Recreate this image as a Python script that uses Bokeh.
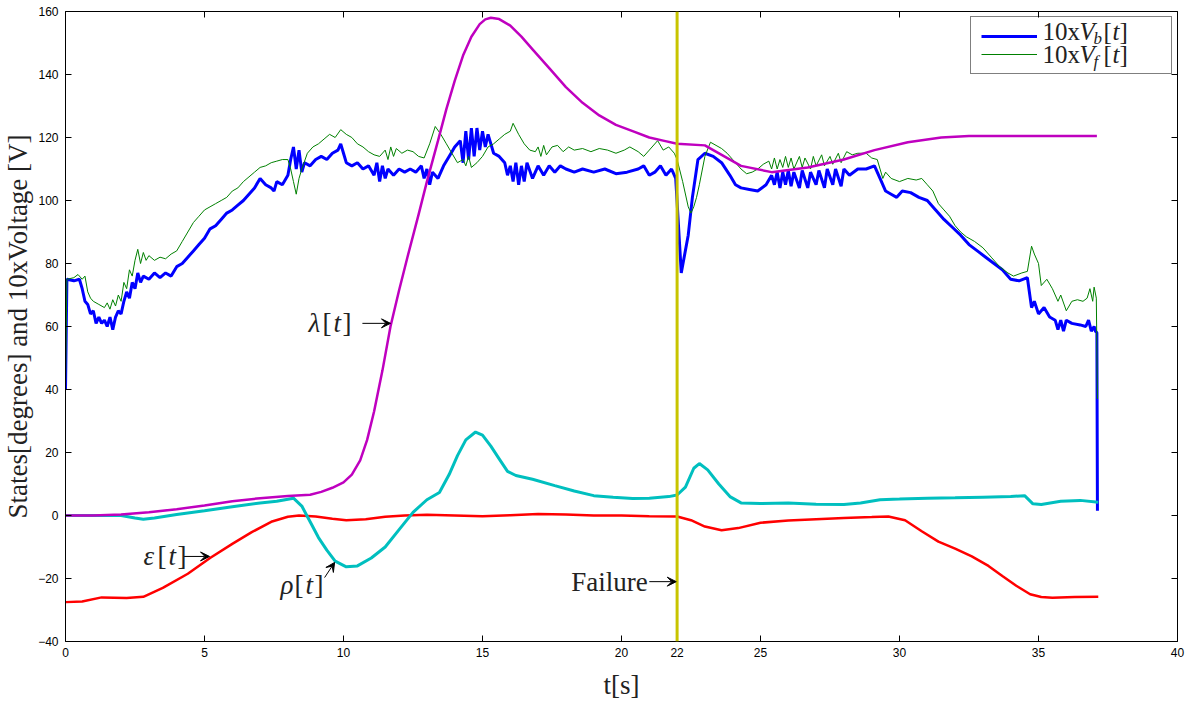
from bokeh.plotting import figure
from bokeh.models import (Range1d, LinearAxis, FixedTicker, Span, Arrow, VeeHead,
                          Label, Legend, LegendItem)
from bokeh.embed import file_html
from bokeh.resources import INLINE

# ---------------- data ----------------
x_ticks = [0, 5, 10, 15, 20, 22, 25, 30, 35, 40]
y_ticks = [-40, -20, 0, 20, 40, 60, 80, 100, 120, 140, 160]
failure_time = 22

blue_t = [0.0, 0.05, 0.3, 0.5, 0.6, 0.7, 0.8, 0.9, 1.0, 1.1, 1.2, 1.3, 1.4, 1.5, 1.6, 1.7, 1.8, 1.9,
          2.0, 2.1, 2.2, 2.3, 2.4, 2.5, 2.6, 2.7, 2.8, 3.0, 3.2, 3.4, 3.6, 3.8, 4.0, 4.2, 4.4, 4.6,
          4.8, 5.0, 5.2, 5.4, 5.6, 5.8, 6.0, 6.2, 6.4, 6.6, 6.8, 7.0, 7.2, 7.4, 7.5, 7.6, 7.8, 8.0,
          8.1, 8.2, 8.3, 8.4, 8.5, 8.6, 8.8, 9.0, 9.2, 9.4, 9.6, 9.8, 9.9, 10.0, 10.1, 10.3, 10.5,
          10.7, 10.9, 11.1, 11.2, 11.3, 11.4, 11.5, 11.6, 11.8, 12.0, 12.2, 12.4, 12.6, 12.8, 12.9,
          13.0, 13.1, 13.2, 13.4, 13.6, 13.8, 14.0, 14.2, 14.3, 14.4, 14.5, 14.6, 14.7, 14.8, 14.9,
          15.0, 15.1, 15.2, 15.4, 15.6, 15.8, 15.9, 16.0, 16.1, 16.2, 16.3, 16.4, 16.5, 16.6, 16.8,
          17.0, 17.2, 17.4, 17.6, 17.8, 18.0, 18.3, 18.6, 19.0, 19.4, 19.8, 20.2, 20.6, 20.8, 21.0,
          21.2, 21.4, 21.6, 21.8, 21.95, 22.15, 22.4, 22.55, 22.75, 23.0, 23.3, 23.6, 23.9, 24.1,
          24.3, 24.6, 24.9, 25.2, 25.4, 25.5, 25.6, 25.7, 25.8, 25.9, 26.0, 26.1, 26.2, 26.4, 26.5,
          26.7, 26.8, 27.0, 27.1, 27.3, 27.4, 27.6, 27.7, 27.9, 28.0, 28.2, 28.5, 28.8, 29.1, 29.3,
          29.5, 29.7, 29.9, 30.1, 30.4, 30.7, 31.0, 31.3, 31.6, 31.9, 32.2, 32.5, 32.8, 33.1, 33.4,
          33.7, 34.0, 34.3, 34.6, 34.75, 34.85, 35.0, 35.2, 35.4, 35.6, 35.7, 35.8, 35.9, 36.0,
          36.2, 36.5, 36.7, 36.8, 36.9, 37.0, 37.05, 37.1, 37.12]
blue_v = [40, 75, 74.5, 75, 72, 68, 67, 64, 65, 61, 63, 61, 62, 60, 63, 59, 63, 65,
          64, 68, 71, 69, 74, 72, 77, 74, 76, 75, 77, 75.5, 77, 76, 79, 80, 82, 84,
          86, 88, 91, 92, 94, 96, 97, 98.5, 100, 102, 104, 107, 105, 104, 103, 106, 105, 108,
          113, 117, 110, 116, 109, 112, 111, 113, 114, 113, 115, 116, 118, 115, 112, 111, 112,
          110, 111, 108, 112, 106, 111, 107, 110, 108, 110, 109, 110, 109, 111, 107,
          110, 105, 109, 107, 111, 114, 117, 119, 112, 122, 113, 123, 114, 123, 116,
          122, 117, 121, 115, 114, 112, 108, 111, 106, 112, 105, 111, 106, 112, 107,
          111, 108, 111, 109, 111, 110, 109, 110, 109, 110, 108.5, 109, 110, 111, 108,
          109, 111, 108, 110, 107, 77, 89, 101, 113, 115, 114, 112, 108, 105,
          104, 103.5, 103, 105, 108, 105, 109, 104, 109, 105, 109.5, 104.5, 109, 104, 109.5,
          104, 109, 105, 109.5, 104, 110, 105, 110, 104.5, 110, 108, 110, 110, 111, 107,
          103, 102, 101, 103, 102.5, 101, 100, 97, 94, 91.5, 89, 86, 84, 82, 80,
          78, 75, 74.5, 75.5, 66, 68, 64, 66, 63, 62, 59, 62, 58.5, 62,
          61, 60.5, 60, 62, 58.5, 60, 58.5, 58, 1.5]

green_t = [0.0, 0.05, 0.3, 0.45, 0.6, 0.7, 0.8, 0.9, 1.0, 1.2, 1.4, 1.5, 1.6, 1.7, 1.8, 1.9, 2.0,
           2.1, 2.2, 2.3, 2.4, 2.5, 2.6, 2.7, 2.8, 2.9, 3.0, 3.2, 3.4, 3.6, 3.8, 4.0, 4.2, 4.4, 4.6,
           4.8, 5.0, 5.2, 5.4, 5.6, 5.8, 6.0, 6.2, 6.4, 6.6, 6.8, 7.0, 7.2, 7.4, 7.6, 7.8, 8.0, 8.1,
           8.2, 8.3, 8.4, 8.5, 8.7, 8.9, 9.1, 9.3, 9.5, 9.7, 9.9, 10.1, 10.3, 10.5, 10.7, 10.9, 11.1,
           11.3, 11.5, 11.6, 11.7, 11.8, 11.9, 12.1, 12.3, 12.5, 12.7, 12.9, 13.1, 13.3, 13.5, 13.7,
           13.9, 14.1, 14.3, 14.4, 14.5, 14.6, 14.8, 15.0, 15.2, 15.4, 15.6, 15.8, 16.0, 16.1, 16.3,
           16.5, 16.7, 16.9, 17.0, 17.1, 17.2, 17.3, 17.5, 17.7, 17.9, 18.1, 18.3, 18.6, 18.9, 19.2,
           19.5, 19.8, 20.1, 20.3, 20.6, 20.8, 21.0, 21.3, 21.5, 21.7, 21.9, 22.0, 22.2, 22.4, 22.5,
           22.6, 22.7, 22.8, 23.0, 23.2, 23.4, 23.6, 23.8, 24.0, 24.3, 24.5, 24.7, 24.9, 25.1, 25.3,
           25.4, 25.5, 25.6, 25.7, 25.8, 25.9, 26.0, 26.1, 26.2, 26.4, 26.5, 26.6, 26.8, 26.9, 27.0,
           27.2, 27.3, 27.5, 27.6, 27.8, 27.9, 28.1, 28.3, 28.5, 28.8, 29.0, 29.2, 29.4, 29.5, 29.7,
           30.0, 30.3, 30.6, 30.8, 31.0, 31.2, 31.4, 31.6, 31.8, 32.0, 32.2, 32.4, 32.7, 33.0, 33.3,
           33.6, 33.9, 34.1, 34.4, 34.6, 34.75, 34.85, 35.0, 35.1, 35.3, 35.5, 35.7, 35.8, 36.0,
           36.2, 36.4, 36.6, 36.75, 36.85, 36.95, 37.0, 37.08, 37.12]
green_v = [40, 75, 75.5, 76.5, 75, 76, 71, 69, 68, 67, 66, 67.5, 65.5, 68.5, 66.5, 70, 68,
           74, 72, 78, 76, 81, 84.5, 80, 83.5, 81, 82.5, 81, 82, 81.5, 83, 84, 87, 90, 93,
           95, 97, 98, 99, 100, 101, 103, 104, 106, 107.5, 109, 110.5, 111, 112, 112.5, 113, 113, 110,
           106, 102, 107, 110, 115, 117, 118, 119.5, 121, 120, 122.5, 121, 120, 118, 117, 115.5, 114.5,
           114, 116, 113, 117, 114, 116.5, 115, 116, 115.5, 114, 113.5, 118, 123.5, 121, 118,
           115, 112, 113, 111, 114, 110.5, 112, 114, 117, 118, 119.5, 121, 122, 124.5, 121,
           118, 116, 115.5, 117, 114, 117.5, 114.5, 117, 117.5, 115.5, 117, 116, 116.5, 115.5, 116.5,
           116, 115, 116, 117, 115.5, 114, 116, 119, 116, 117, 115, 113, 106, 98, 96,
           98, 101, 105, 114, 118.5, 117.5, 116.5, 115, 113, 110, 108.5, 109, 110, 111.5, 112.5,
           110, 113.5, 110, 113, 110.5, 114, 110.5, 113.5, 110, 114, 110.5, 113.5, 110, 114, 111,
           114.5, 111, 114, 111.5, 115, 112, 115.5, 114.5, 115, 115, 113.5, 113, 107, 109, 107,
           106, 107, 106.5, 107, 105, 103, 99, 97, 95, 92, 90, 88.5, 87, 85, 82,
           79, 77, 76, 77, 77.5, 85.5, 83, 80, 73, 75, 72, 68, 70, 65,
           68, 68.5, 68, 69, 72, 68, 72.5, 69, 37]

lam_t = [0, 1, 2, 3, 4, 5, 6, 7, 8, 8.8, 9.2, 9.6, 10.0, 10.3, 10.6, 10.85, 11.1, 11.4, 11.69,
         12.0, 12.3, 12.7, 13.0, 13.4, 13.7, 14.0, 14.3, 14.6, 14.9, 15.1, 15.3, 15.6, 16.0, 16.4,
         16.8, 17.4, 18.0, 18.6, 19.2, 19.8, 20.4, 21.0, 21.5, 22.0, 23.0, 24.3, 25.4, 26.7, 28.0,
         29.1, 30.3, 31.5, 32.5, 34.0, 37.1]
lam_v = [0, 0, 0.3, 1, 2, 3.2, 4.5, 5.5, 6.2, 6.6, 7.5, 8.8, 10.5, 13, 17.5, 24, 33, 46, 60,
         71.5, 82, 95.5, 106, 119, 129, 138, 146, 152, 156, 157.5, 158, 157.6, 155.5, 152,
         148, 142, 136, 131, 127, 124, 122, 120, 119, 118, 117.5, 111, 109, 110.5, 113,
         116, 118.5, 120, 120.5, 120.5, 120.5]

rho_t = [0, 1, 2, 2.5, 2.8, 3.2, 4, 5, 6, 7, 7.6, 8.2, 8.5, 8.8, 9.1, 9.4, 9.7, 10.1, 10.5, 11,
         11.5, 12, 12.5, 13, 13.45, 13.8, 14.1, 14.4, 14.75, 15.0, 15.3, 15.6, 15.9, 16.2, 16.8,
         17.6, 18.3, 19.0, 19.7, 20.4, 21.0, 21.7, 22.0, 22.3, 22.6, 22.8, 23.1, 23.5, 23.9, 24.3,
         25, 26, 27, 28, 28.6, 29.3, 30, 31, 32, 33, 34, 34.5, 34.8, 35.1, 35.8, 36.5, 37.15]
rho_v = [0, 0, 0, -0.8, -1.2, -0.8, 0.3, 1.5, 2.8, 4, 4.5, 5.5, 3, -2, -7, -11, -14.5, -16.3, -16, -13.5,
         -10, -4.5, 1, 5, 7.3, 13, 19, 24, 26.5, 25.5, 22, 18, 14, 12.7, 11.5,
         9.5, 7.8, 6.3, 5.8, 5.4, 5.5, 6, 6.5, 9, 15, 16.5, 14.5, 10, 6, 4,
         3.8, 4, 3.6, 3.5, 4, 5, 5.2, 5.5, 5.6, 5.8, 6, 6.3, 3.7, 3.5, 4.5, 4.8, 4.2]

eps_t = [0, 0.6, 1.3, 2.2, 2.8, 3.5, 4.4, 5.2, 6, 6.7, 7.4, 8, 8.4, 9, 9.6, 10.1, 10.8, 11.5,
         12.2, 13, 14, 15, 16, 17, 18, 19, 20, 21, 22, 22.5, 23, 23.6, 24.2, 25, 26, 27, 28, 29,
         29.6, 30.2, 30.8, 31.4, 32, 32.6, 33.2, 33.7, 34.2, 34.7, 35.1, 35.5, 36.3, 37.15]
eps_v = [-27.5, -27.3, -26, -26.2, -25.8, -23, -18.5, -13.5, -9, -5.3, -2, -0.4, 0, -0.3, -1, -1.5,
         -1.2, -0.4, 0, 0.2, 0, -0.2, 0.1, 0.5, 0.3, 0, 0, -0.2, -0.3, -1.5, -3.5, -4.7, -4, -2.3,
         -1.6, -1.2, -0.8, -0.5, -0.3, -1.5, -5, -8.3, -10.5, -13, -16, -19.2, -22.3, -25, -25.9,
         -26.1, -25.9, -25.8]

# ---------------- figure ----------------
p = figure(frame_width=1112, frame_height=630,
           x_range=Range1d(0, 40), y_range=Range1d(-40, 160),
           output_backend="svg", toolbar_location=None,
           min_border_left=65, min_border_top=11, min_border_bottom=61, min_border_right=15)
p.outline_line_color = None
p.grid.visible = False
p.background_fill_color = "white"

TICK_FONT = "Liberation Sans"
SERIF = "Liberation Serif"

for ax in (p.xaxis[0], p.yaxis[0]):
    ax.major_tick_in = 6
    ax.major_tick_out = 0
    ax.minor_tick_line_color = None
    ax.axis_line_color = "black"
    ax.major_tick_line_color = "black"
    ax.major_label_text_font = TICK_FONT
    ax.major_label_text_font_size = "12px"
    ax.major_label_text_color = "black"
    ax.axis_label_text_font = SERIF
    ax.axis_label_text_font_style = "normal"
    ax.axis_label_text_color = "#222222"

p.xaxis.ticker = FixedTicker(ticks=x_ticks)
p.yaxis.ticker = FixedTicker(ticks=y_ticks)
p.xaxis.axis_label = "t[s]"
p.yaxis.axis_label = "States[degrees] and 10xVoltage [V]"
p.xaxis.axis_label_text_font_size = "27px"
p.yaxis.axis_label_text_font_size = "27px"
p.xaxis.major_label_standoff = 6
p.xaxis.axis_label_standoff = 10
p.yaxis.major_label_standoff = 7
p.yaxis.axis_label_standoff = 2

for loc, tks in (("above", x_ticks), ("right", y_ticks)):
    ax = LinearAxis(ticker=FixedTicker(ticks=tks))
    ax.major_tick_in = 6
    ax.major_tick_out = 0
    ax.minor_tick_line_color = None
    ax.major_label_overrides = {t: "" for t in tks}
    ax.major_label_standoff = 0
    ax.axis_line_color = "black"
    ax.major_tick_line_color = "black"
    p.add_layout(ax, loc)

# ---------------- lines ----------------
r_blue = p.line(blue_t, blue_v, line_color="#0000ff", line_width=3)
r_green = p.line(green_t, green_v, line_color="#008000", line_width=1)
r_eps = p.line(eps_t, eps_v, line_color="#ff0000", line_width=2.5)
r_rho = p.line(rho_t, rho_v, line_color="#00bfbf", line_width=3)
r_lam = p.line(lam_t, lam_v, line_color="#bf00bf", line_width=2.5)

p.add_layout(Span(location=failure_time, dimension="height", line_color="#c8c400", line_width=3))

# ---------------- legend ----------------
legend = Legend(items=[LegendItem(label=" ", renderers=[r_blue]),
                       LegendItem(label=" ", renderers=[r_green])],
                location="top_right", margin=5, padding=10, spacing=0,
                glyph_width=56, glyph_height=18, label_height=18, label_width=124,
                label_standoff=0, border_line_color="black", border_line_width=1,
                background_fill_color="white", background_fill_alpha=0.0,
                label_text_font_size="10px")
p.add_layout(legend)


def piece_label(x, y, text, dx=0, dy=0, size="25px", italic=False, align="left"):
    p.add_layout(Label(x=x, y=y, text=text, x_offset=dx, y_offset=dy, level="overlay",
                       text_font=SERIF, text_font_size=size,
                       text_font_style="italic" if italic else "normal",
                       text_baseline="middle", text_align=align, text_color="#222222"))


def legend_text(y, sub):
    x0 = 35.14
    piece_label(x0, y, "10x", 0)
    piece_label(x0, y, "V", 37, italic=True)
    piece_label(x0, y, sub, 51, -7, size="17px", italic=True)
    piece_label(x0, y, "[", 61)
    piece_label(x0, y, "t", 70, italic=True)
    piece_label(x0, y, "]", 77)


legend_text(153.7, "b")
legend_text(146.3, "f")


def math_text(x, y, sym):
    piece_label(x, y, sym, 0, size="27px", italic=True)
    piece_label(x, y, "[", 14, size="27px")
    piece_label(x, y, "t", 25, size="27px", italic=True)
    piece_label(x, y, "]", 34, size="27px")


math_text(8.74, 61, "λ")
math_text(2.81, -13, "ε")
math_text(7.73, -22.2, "ρ")
piece_label(20.94, -21, "Failure", 0, size="27px", align="right")

head = dict(size=9, fill_color="black", line_color="black")
p.add_layout(Arrow(end=VeeHead(**head), x_start=10.68, y_start=61, x_end=11.69, y_end=61,
                   line_width=1, line_color="black"))
p.add_layout(Arrow(end=VeeHead(**head), x_start=4.24, y_start=-13, x_end=5.18, y_end=-13,
                   line_width=1, line_color="black"))
p.add_layout(Arrow(end=VeeHead(**head), x_start=9.32, y_start=-19.7, x_end=9.68, y_end=-14.9,
                   line_width=1, line_color="black"))
p.add_layout(Arrow(end=VeeHead(**head), x_start=21.0, y_start=-21, x_end=21.97, y_end=-21,
                   line_width=1, line_color="black"))

open("out.html", "w").write(file_html(p, INLINE))
